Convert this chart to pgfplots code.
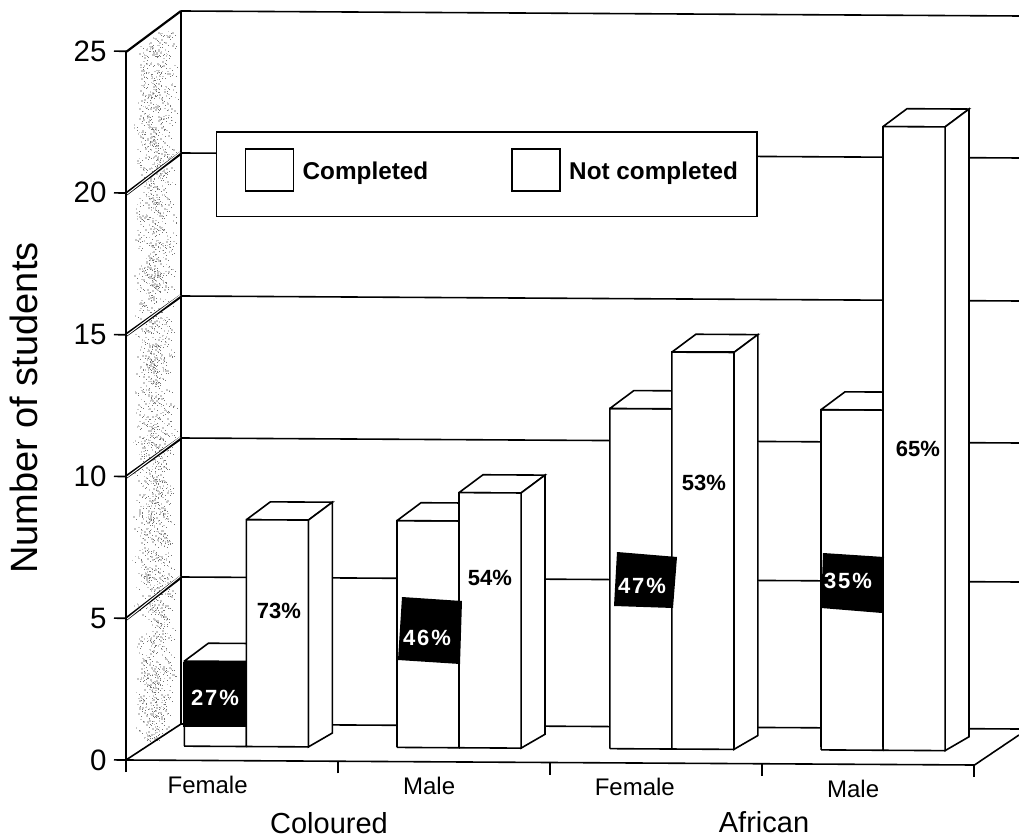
\documentclass[border=0pt]{standalone}
\usepackage{fontspec}
\setmainfont{Liberation Sans}
\newfontfamily\spaced[LetterSpace=9]{Liberation Sans}
\usepackage{pgfplots}
\pgfplotsset{compat=1.18}
\newcommand{\barface}[1]{\addplot[forget plot,fill=white,draw=black,line width=1.6pt,line join=miter,yshift=14.2pt] coordinates {#1};}
\begin{document}
\begin{tikzpicture}
\begin{scope}[x=1pt,y=-1pt,xshift=-126pt,yshift=760pt]
\path[use as bounding box] (0,0) rectangle (1019,838);
% stippled left wall (texture only, no chart values)
\pgfmathsetseed{7}
\foreach \i in {1,...,1500}{
  \pgfmathsetmacro{\sx}{153.5+22*(rand+rand)/2}
  \pgfmathsetmacro{\sy}{((1+rand)/2)*(700-(-10))+30}
  \pgfmathsetmacro{\tp}{52-(\sx-126)*0.74}
  \pgfmathsetmacro{\bt}{760-(\sx-126)*0.65}
  \pgfmathparse{(\sy>\tp+3 && \sy<\bt-3) ? 1 : 0}
  \ifnum\pgfmathresult=1
    \fill[gray!45] (\sx,\sy) rectangle ++(1.6,1.6);
    \fill[gray!90!black] (\sx+3,\sy+2.5) rectangle ++(1,1);
  \fi
}
\draw[line width=1.6pt] (181,11)--(181,724);
\draw[line width=2.2pt] (126,52)--(181,11);
\draw[line width=1.6pt] (126,760)--(181,724);
\foreach \a/\b in {194/153,335/296,477/438,619/577}{
  \draw[line width=3.4pt] (126,\a)--(181,\b);
  \draw[line width=1pt,white] (127,\a)--(180,\b-0.6);
}
% back wall and floor
\foreach \b in {11,153,296,438,577,724}{
  \draw[line width=1.6pt] (181,\b)--(1019,\b+5);
}
\draw[line width=1.6pt] (973,766)--(1019,735);
\end{scope}
\begin{axis}[
  at={(0pt,0pt)},anchor=origin,
  x={(212pt,-1.25pt)},y={(0pt,28.35pt)},
  xmin=0,xmax=4,ymin=0,ymax=25,
  clip=false,
  axis x line=bottom,axis y line=left,
  axis line style={-,line width=1.6pt},
  tick align=outside,tick pos=left,
  major tick length=12pt,
  every tick/.style={black,line width=1.6pt},
  xtick={0,1,2,3,4},xticklabels={},
  extra x ticks={0.385,1.43,2.40,3.43},
  extra x tick labels={Female,Male,Female,Male},
  extra x tick style={major tick length=0pt,tick label style={font=\fontsize{24}{26}\selectfont,yshift=-12pt}},
  ytick={0,5,10,15,20,25},
  yticklabel style={font=\fontsize{29.5}{32}\selectfont,/pgf/number format/assume math mode=true,xshift=-4pt},
  ylabel={Number of students},
  every axis y label/.style={at={(axis description cs:-0.1205,0.5)},rotate=90,anchor=center,font=\fontsize{38}{42}\selectfont},
  legend style={at={(0.106,0.888)},anchor=north west,draw=black,line width=1.6pt,fill=white,
    font=\bfseries\fontsize{24.3}{26}\selectfont,legend columns=2,
    inner xsep=17pt,inner ysep=28pt,nodes={text depth=7pt},
    /tikz/every even column/.append style={column sep=70pt}},
  legend cell align=left,
  legend image code/.code={
    \path[use as bounding box,draw=none] (-12pt,0pt) rectangle (55pt,0pt);
    \draw[line width=1.6pt,fill=white] (0pt,-31pt) rectangle (48pt,11pt);},
]
\addplot[ybar,bar width=0.2925,bar shift=0,fill=white,draw=black,line width=1.6pt,yshift=14.2pt]
  coordinates {(0.422,3)(1.425,8)(2.429,12)(3.425,12)};
\addlegendentry{Completed}
% front faces following the slight tilt of the axis
\barface{(0.2755,0)(0.2755,3)(0.568,3)(0.568,0)(0.2755,0)}
\barface{(1.2785,0)(1.2785,8)(1.571,8)(1.571,0)(1.2785,0)}
\barface{(2.2825,0)(2.2825,12)(2.575,12)(2.575,0)(2.2825,0)}
\barface{(3.2785,0)(3.2785,12)(3.571,12)(3.571,0)(3.2785,0)}
% tops of the completed bars
\barface{(0.2755,3)(0.3885,3.635)(0.681,3.635)(0.568,3)(0.2755,3)}
\barface{(1.2785,8)(1.3915,8.635)(1.684,8.635)(1.571,8)(1.2785,8)}
\barface{(2.2825,12)(2.3955,12.635)(2.688,12.635)(2.575,12)(2.2825,12)}
\barface{(3.2785,12)(3.3915,12.635)(3.684,12.635)(3.571,12)(3.2785,12)}
% tops of the not completed bars
\barface{(0.568,8)(0.681,8.635)(0.9735,8.635)(0.8605,8)(0.568,8)}
\barface{(1.571,9)(1.684,9.635)(1.9765,9.635)(1.8635,9)(1.571,9)}
\barface{(2.575,14)(2.688,14.635)(2.9805,14.635)(2.8675,14)(2.575,14)}
\barface{(3.571,22)(3.684,22.635)(3.9765,22.635)(3.8635,22)(3.571,22)}
% sides of the not completed bars
\barface{(0.8605,8)(0.9735,8.635)(0.9735,0.494)(0.8605,0)(0.8605,8)}
\barface{(1.8635,9)(1.9765,9.635)(1.9765,0.494)(1.8635,0)(1.8635,9)}
\barface{(2.8675,14)(2.9805,14.635)(2.9805,0.494)(2.8675,0)(2.8675,14)}
\barface{(3.8635,22)(3.9765,22.635)(3.9765,0.494)(3.8635,0)(3.8635,22)}
\addplot[ybar,bar width=0.2925,bar shift=0,fill=white,draw=black,line width=1.6pt,yshift=14.2pt]
  coordinates {(0.714,8)(1.717,9)(2.721,14)(3.717,22)};
\addlegendentry{Not completed}
\barface{(0.568,0)(0.568,8)(0.8605,8)(0.8605,0)(0.568,0)}
\barface{(1.571,0)(1.571,9)(1.8635,9)(1.8635,0)(1.571,0)}
\barface{(2.575,0)(2.575,14)(2.8675,14)(2.8675,0)(2.575,0)}
\barface{(3.571,0)(3.571,22)(3.8635,22)(3.8635,0)(3.571,0)}
\end{axis}
\begin{scope}[x=1pt,y=-1pt,xshift=-126pt,yshift=760pt]
\fill (183,662)--(246,662)--(246,727)--(183,727)--cycle;
\fill (402,597)--(462,601)--(460,664)--(398,660)--cycle;
\fill (617,552)--(677,557)--(673,608)--(614,606)--cycle;
\fill (823,553)--(884,557)--(882,613)--(821,608)--cycle;
\begin{scope}[every node/.style={font=\bfseries\fontsize{22}{24}\selectfont}]
\node at (279,611) {73\%};
\node at (490,578) {54\%};
\node at (704,483) {53\%};
\node at (918,449) {65\%};
\node[white] at (215,698) {\spaced 27\%};
\node[white] at (427,638) {\spaced 46\%};
\node[white] at (642,586) {\spaced 47\%};
\node[white] at (848,581) {\spaced 35\%};
\end{scope}
\node[font=\fontsize{29}{30}\selectfont,inner sep=0pt] at (329,823) {Coloured};
\node[font=\fontsize{29}{30}\selectfont,inner sep=0pt] at (764,822) {African};
\end{scope}
\end{tikzpicture}
\end{document}
